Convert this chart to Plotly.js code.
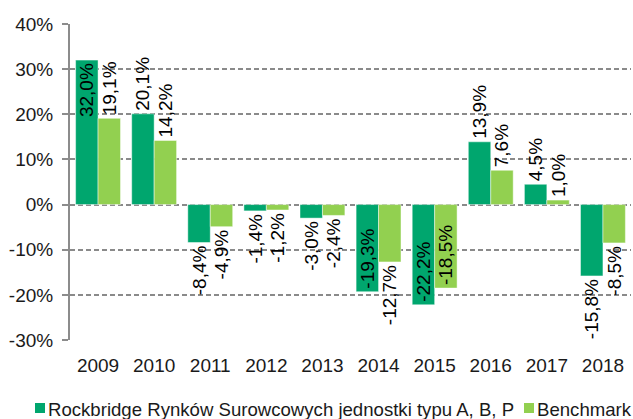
<!DOCTYPE html>
<html>
<head>
<meta charset="utf-8">
<script src="https://cdn.plot.ly/plotly-3.0.1.min.js"></script>
<style>html,body{margin:0;padding:0;background:#fff;}#chart{width:633px;height:419px;}</style>
</head>
<body>
<div id="chart"></div>
<script>
const years = ['2009','2010','2011','2012','2013','2014','2015','2016','2017','2018'];
const fundReturns = [32.0, 20.1, -8.4, -1.4, -3.0, -19.3, -22.2, 13.9, 4.5, -15.8];
const benchmarkReturns = [19.1, 14.2, -4.9, -1.2, -2.4, -12.7, -18.5, 7.6, 1.0, -8.5];
const seriesNames = ['Rockbridge Rynków Surowcowych jednostki typu A, B, P', 'Benchmark'];
const yTickVals = [-30, -20, -10, 0, 10, 20, 30, 40];
const yTickText = yTickVals.map(v => v + '%');

// label placement (style)
const fundLabelPos = ['inside','outside','outside','outside','outside','inside','inside','outside','outside','outside'];
const benchLabelPos = ['outside','outside','outside','outside','outside','outside','inside','outside','outside','outside'];

const FONT = 'Arial, "Liberation Sans", sans-serif';
const FS = 19;
const LFS = 18.6;
const TXT = '#1a1a1a';
const DARK = '#00A66E';
const LIGHT = '#92D050';
const AXIS = '#8c8c8c';
const fmt = v => v.toFixed(1).replace('.', ',') + '%';

function barTrace(name, values, color, pos) {
  return {
    type: 'bar', name: name, x: years, y: values,
    xaxis: 'x', yaxis: 'y',
    marker: {color: color, line: {color: 'rgba(255,255,255,0.45)', width: 1}},
    text: values.map(fmt), textposition: pos, textangle: -90,
    textfont: {family: FONT, size: FS, color: '#000'},
    insidetextfont: {family: FONT, size: FS, color: '#000'},
    outsidetextfont: {family: FONT, size: FS, color: '#000'},
    insidetextanchor: 'end', constraintext: 'none', cliponaxis: false,
    hoverinfo: 'skip', showlegend: false
  };
}

const data = [
  barTrace(seriesNames[0], fundReturns, DARK, fundLabelPos),
  barTrace(seriesNames[1], benchmarkReturns, LIGHT, benchLabelPos)
];

const yMin = yTickVals[0], yMax = yTickVals[yTickVals.length - 1];
const boundaries = years.map((_, i) => i - 0.5).concat([years.length - 0.5]);

// custom legend (paper coords relative to plot area)
const L = 70, W = 561, B = 340, H = 316;
const px = x => (x - L) / W;
const py = y => (B - y) / H;

const layout = {
  width: 633, height: 419,
  margin: {l: 70, r: 2, t: 24, b: 79},
  paper_bgcolor: '#fff', plot_bgcolor: '#fff',
  font: {family: FONT, size: FS, color: TXT},
  barmode: 'group', bargap: 0.2, bargroupgap: 0,
  showlegend: false,
  xaxis: {
    type: 'category', range: [-0.5, years.length - 0.5],
    showline: false, showgrid: false, zeroline: false, ticks: '',
    tickfont: {family: FONT, size: FS, color: TXT}, ticklabelstandoff: 12
  },
  xaxis2: {
    overlaying: 'x', anchor: 'free', position: (0 - yMin) / (yMax - yMin),
    type: 'linear', range: [-0.5, years.length - 0.5],
    tickvals: boundaries, showticklabels: false,
    ticks: 'outside', ticklen: 5, tickwidth: 2, tickcolor: AXIS,
    showline: true, linecolor: AXIS, linewidth: 2,
    showgrid: false, zeroline: false
  },
  yaxis: {
    range: [yMin, yMax], tickvals: yTickVals, ticktext: yTickText,
    showline: true, linecolor: AXIS, linewidth: 2,
    ticks: 'outside', ticklen: 6, tickwidth: 2, tickcolor: AXIS,
    showgrid: true, gridcolor: '#8a8a8a', gridwidth: 2, griddash: '5px,3px',
    zeroline: false, ticklabelstandoff: 5,
    tickfont: {family: FONT, size: FS, color: TXT}
  },
  shapes: [
    {type: 'rect', xref: 'paper', yref: 'paper', x0: px(35), x1: px(45), y0: py(413), y1: py(403), fillcolor: DARK, line: {width: 0}},
    {type: 'rect', xref: 'paper', yref: 'paper', x0: px(524), x1: px(534), y0: py(413), y1: py(403), fillcolor: LIGHT, line: {width: 0}}
  ],
  annotations: [
    {xref: 'paper', yref: 'paper', x: px(46), y: py(409), xanchor: 'left', yanchor: 'middle', showarrow: false, text: seriesNames[0], font: {family: FONT, size: LFS, color: TXT}},
    {xref: 'paper', yref: 'paper', x: px(535), y: py(409), xanchor: 'left', yanchor: 'middle', showarrow: false, text: seriesNames[1], font: {family: FONT, size: LFS, color: TXT}}
  ]
};

Plotly.newPlot('chart', data, layout, {displayModeBar: false, staticPlot: true});
</script>
</body>
</html>
